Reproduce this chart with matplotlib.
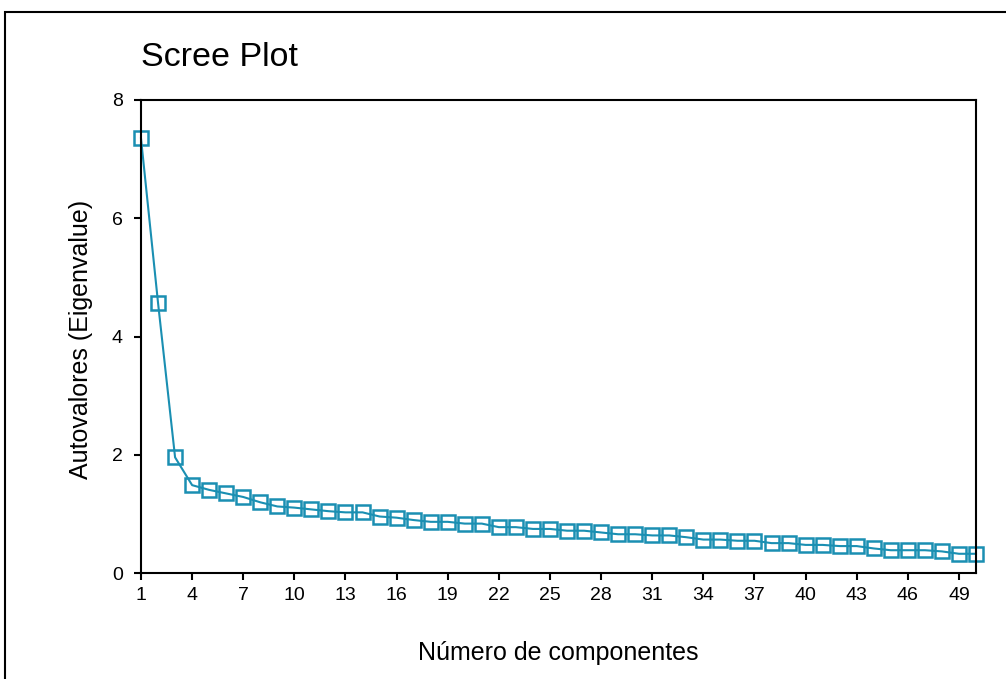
import matplotlib
matplotlib.use("Agg")
import matplotlib.pyplot as plt
from matplotlib.patches import Rectangle

plt.rcParams['font.family'] = ['Liberation Sans', 'DejaVu Sans']

# ----------------------------
# Data
# ----------------------------
components = list(range(1, 51))
eigenvalues = [
    7.35, 4.57, 1.96, 1.49, 1.41, 1.35, 1.29, 1.20, 1.13, 1.11,
    1.08, 1.05, 1.03, 1.03, 0.96, 0.94, 0.90, 0.87, 0.87, 0.84,
    0.84, 0.78, 0.78, 0.75, 0.75, 0.72, 0.72, 0.69, 0.66, 0.66,
    0.64, 0.64, 0.61, 0.57, 0.57, 0.55, 0.55, 0.51, 0.51, 0.48,
    0.48, 0.46, 0.46, 0.42, 0.39, 0.39, 0.39, 0.37, 0.33, 0.33,
]
x_ticks = list(range(1, 50, 3))
y_ticks = [0, 2, 4, 6, 8]

COLOR = "#1a8fb2"

fig = plt.figure(figsize=(10.06, 6.79), dpi=100)

# outer frame (open at right and bottom edges of the image)
fig.patches.append(Rectangle((5 / 1006, -0.1), 1.2, 1 - 12 / 679 + 0.1,
                             transform=fig.transFigure, fill=False,
                             edgecolor="black", linewidth=1.5))

ax = fig.add_axes([141 / 1006, 1 - 573.3 / 679, (976 - 141) / 1006, (573.3 - 100) / 679])
ax.plot(components, eigenvalues, color=COLOR, linewidth=1.5,
        marker="s", markersize=10, markerfacecolor="none",
        markeredgecolor=COLOR, markeredgewidth=1.8, clip_on=False)

ax.set_xlim(1, 50)
ax.set_ylim(0, 8)
ax.set_xticks(x_ticks)
ax.set_yticks(y_ticks)
ax.tick_params(direction="out", length=5, width=1.5, labelsize=14)
ax.tick_params(axis="x", pad=5)
ax.tick_params(axis="y", pad=8)
for s in ax.spines.values():
    s.set_linewidth(1.5)

ax.set_xlabel("Número de componentes", fontsize=18, va="center")
ax.xaxis.set_label_coords(0.5, (573.3 - 653) / 473.3)
ax.set_ylabel("Autovalores (Eigenvalue)", fontsize=18, va="center")
ax.yaxis.set_label_coords((81 - 141) / 835, 0.495)
fig.text(141 / 1006, 1 - 58 / 679, "Scree Plot", fontsize=24.5, va="center", ha="left")

fig.savefig("out.png", dpi=100)
